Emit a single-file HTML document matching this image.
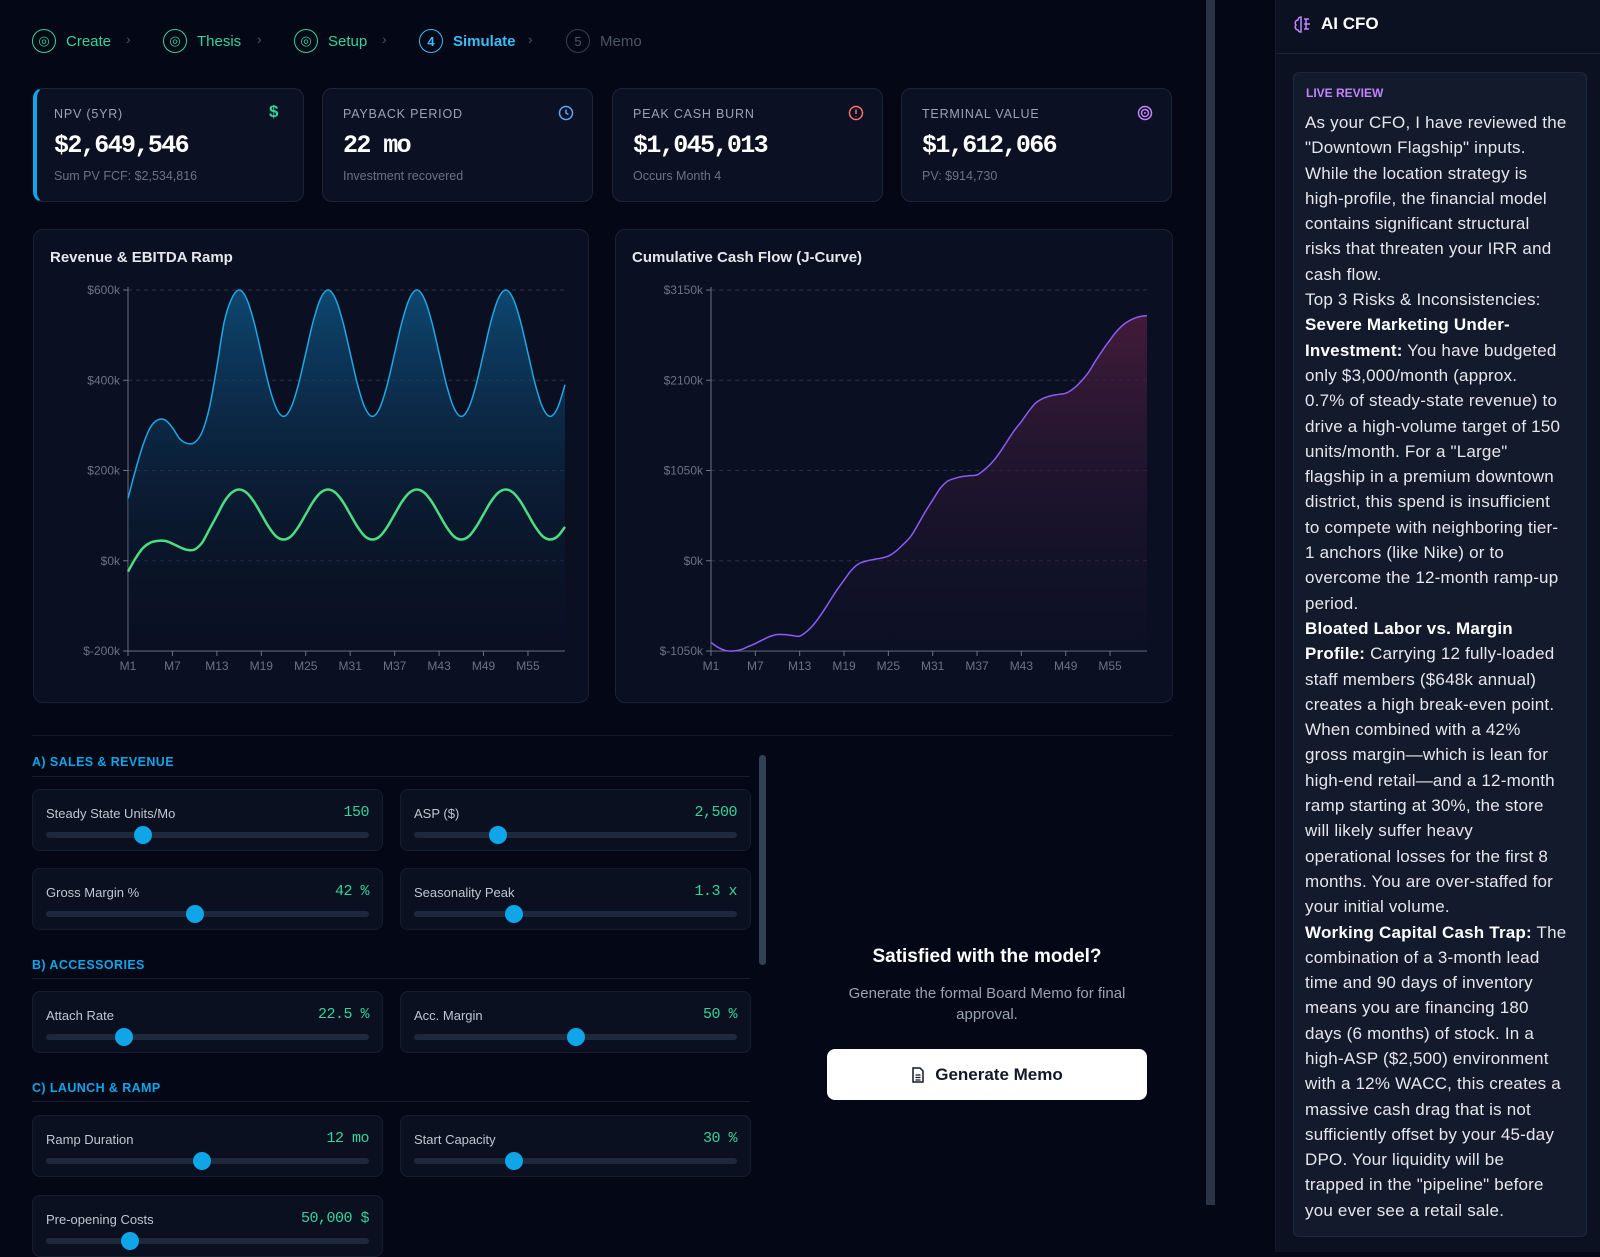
<!DOCTYPE html>
<html><head><meta charset="utf-8"><style>
*{box-sizing:border-box;margin:0;padding:0}
body{width:1600px;height:1252px;overflow:hidden;background:#040816;font-family:"Liberation Sans",sans-serif;color:#e5e7eb;position:relative}
.abs{position:absolute}
.step{position:absolute;top:29px;height:24px;display:flex;align-items:center;font-size:15px}
.circ{width:24px;height:24px;border-radius:50%;border:1.5px solid;display:flex;align-items:center;justify-content:center;font-size:13px;margin-right:10px}
.chev{position:absolute;top:31px;color:#4b5563;font-size:14px}
.kpi{position:absolute;top:88px;height:114px;width:271px;background:#0b1122;border:1px solid #1c2436;border-radius:10px}
.kpi .lb{position:absolute;left:20px;top:18px;font-size:12.5px;letter-spacing:.8px;color:#9aa3b2}
.kpi .v{position:absolute;left:20px;top:42px;font-family:"Liberation Mono",monospace;font-weight:bold;font-size:25px;color:#fff;letter-spacing:-1.6px}
.kpi .s{position:absolute;left:20px;top:80px;font-size:12.5px;color:#6b7280}
.kpi .ic{position:absolute;right:18px;top:16px;width:16px;height:16px}
.card{position:absolute;top:229px;height:474px;background:#0a1022;border:1px solid #1a2234;border-radius:10px}
.card .t{position:absolute;left:16px;top:19px;font-size:15px;font-weight:bold;color:#e5e7eb}
.sec{position:absolute;left:32px;font-size:12.5px;font-weight:bold;color:#0ea5e9;letter-spacing:.4px}
.hr{position:absolute;left:32px;width:718px;height:1px;background:#161e2e}
.sl{position:absolute;height:62px;width:351px;background:#0a1020;border:1px solid #161e2e;border-radius:8px}
.sl .n{position:absolute;left:13px;top:16px;font-size:13px;color:#c0c6d0}
.sl .val{position:absolute;right:13px;top:14px;font-family:"Liberation Mono",monospace;font-size:15px;color:#34d399;letter-spacing:-.5px}
.sl .tr{position:absolute;left:13px;right:13px;top:42px;height:6px;border-radius:3px;background:#1e293b}
.sl .th{position:absolute;top:36px;width:18px;height:18px;border-radius:50%;background:#0ea5e9;margin-left:-9px}
.cfo{position:absolute;left:1305px;top:110px;font-size:17px;line-height:25.3px;color:#e5e7eb;white-space:nowrap;letter-spacing:.2px}
.cfo b{color:#fff}
</style></head><body>
<div class="abs" style="left:0;top:0;width:1200px;height:80px">
<div class="step" style="left:32px;color:#34d399"><div class="circ" style="border-color:#34d399">◎</div>Create</div>
<div class="chev" style="left:126px">›</div>
<div class="step" style="left:163px;color:#34d399"><div class="circ" style="border-color:#34d399">◎</div>Thesis</div>
<div class="chev" style="left:257px">›</div>
<div class="step" style="left:294px;color:#34d399"><div class="circ" style="border-color:#34d399">◎</div>Setup</div>
<div class="chev" style="left:382px">›</div>
<div class="step" style="left:419px;color:#38bdf8;font-weight:bold"><div class="circ" style="border-color:#38bdf8">4</div>Simulate</div>
<div class="chev" style="left:528px">›</div>
<div class="step" style="left:566px;color:#4b5563"><div class="circ" style="border-color:#374151">5</div>Memo</div>
</div>

<div class="kpi" style="left:33px;border-left:4px solid #0ea5e9"><div class="lb" style="left:17px">NPV (5YR)</div><div class="v" style="left:17px">$2,649,546</div><div class="s" style="left:17px">Sum PV FCF: $2,534,816</div><div class="ic" style="color:#34d399;font-size:17px;font-weight:bold;top:13px">$</div></div>
<div class="kpi" style="left:322px"><div class="lb">PAYBACK PERIOD</div><div class="v">22 mo</div><div class="s">Investment recovered</div><svg class="ic" viewBox="0 0 16 16"><circle cx="8" cy="8" r="6.5" fill="none" stroke="#60a5fa" stroke-width="1.5"/><path d="M8 4.5V8l2.5 1.5" fill="none" stroke="#60a5fa" stroke-width="1.5"/></svg></div>
<div class="kpi" style="left:612px"><div class="lb">PEAK CASH BURN</div><div class="v">$1,045,013</div><div class="s">Occurs Month 4</div><svg class="ic" viewBox="0 0 16 16"><circle cx="8" cy="8" r="6.5" fill="none" stroke="#f87171" stroke-width="1.5"/><path d="M8 4.5V9M8 11v.5" stroke="#f87171" stroke-width="1.5"/></svg></div>
<div class="kpi" style="left:901px"><div class="lb">TERMINAL VALUE</div><div class="v">$1,612,066</div><div class="s">PV: $914,730</div><svg class="ic" viewBox="0 0 16 16"><circle cx="8" cy="8" r="6.5" fill="none" stroke="#c084fc" stroke-width="1.5"/><circle cx="8" cy="8" r="3.5" fill="none" stroke="#c084fc" stroke-width="1.5"/><circle cx="8" cy="8" r="1" fill="#c084fc"/></svg></div>

<div class="card" style="left:33px;width:556px"><div class="t">Revenue &amp; EBITDA Ramp</div></div>
<div class="card" style="left:615px;width:558px"><div class="t">Cumulative Cash Flow (J-Curve)</div></div>
<svg id="ch" class="abs" style="left:0;top:0" width="1200" height="720"></svg>

<div class="abs" style="left:32px;top:735px;width:1141px;height:1px;background:#111827"></div>
<div class="sec" style="top:755px">A) SALES &amp; REVENUE</div><div class="hr" style="top:776px"></div>
<div class="sec" style="top:958px">B) ACCESSORIES</div><div class="hr" style="top:978px"></div>
<div class="sec" style="top:1081px">C) LAUNCH &amp; RAMP</div><div class="hr" style="top:1101px"></div>
<div id="sliders"></div>
<div class="abs" style="left:759px;top:755px;width:7px;height:210px;background:#334155;border-radius:4px"></div>

<div class="abs" style="left:800px;width:374px;top:946px;text-align:center;font-size:19px;font-weight:bold;color:#fff">Satisfied with the model?</div>
<div class="abs" style="left:830px;width:314px;top:983px;text-align:center;font-size:15px;line-height:21px;color:#9aa3b2">Generate the formal Board Memo for final approval.</div>
<div class="abs" style="left:827px;top:1049px;width:320px;height:51px;background:#fff;border-radius:8px;display:flex;align-items:center;justify-content:center;font-size:17px;font-weight:bold;color:#111827"><svg width="14" height="16" viewBox="0 0 14 16" style="margin-right:10px"><path d="M2 1h7l3 3v11H2z" fill="none" stroke="#111827" stroke-width="1.5"/><path d="M4.5 8h5M4.5 10.5h5M4.5 13h5" stroke="#111827" stroke-width="1.2"/></svg>Generate Memo</div>

<div class="abs" style="left:1206px;top:0;width:9px;height:1205px;background:#2a3444"></div>
<div class="abs" style="left:1275px;top:0;width:325px;height:1252px;background:#0b1120;border-left:1px solid #141b2b">
<div class="abs" style="left:0;top:53px;width:325px;height:1px;background:#1a2233"></div>
<svg class="abs" style="left:17px;top:14px" width="20" height="20" viewBox="0 0 20 20"><path d="M8 3a3 3 0 0 0-3 3 3 3 0 0 0-2 5 3 3 0 0 0 2 5 3 3 0 0 0 3 2V3zM11 5h5M11 10h6M11 15h5M13 5v10" fill="none" stroke="#c084fc" stroke-width="1.5"/></svg>
<div class="abs" style="left:45px;top:14px;font-size:17px;font-weight:bold;color:#fff">AI CFO</div>
<div class="abs" style="left:17px;top:72px;width:294px;height:1165px;background:#121a2c;border:1px solid #1e2738;border-radius:6px"></div>
<div class="abs" style="left:30px;top:86px;font-size:12px;font-weight:bold;color:#c084fc">LIVE REVIEW</div>
</div>
<div class="cfo">As your CFO, I have reviewed the<br>"Downtown Flagship" inputs.<br>While the location strategy is<br>high-profile, the financial model<br>contains significant structural<br>risks that threaten your IRR and<br>cash flow.<br>Top 3 Risks &amp; Inconsistencies:<br><b>Severe Marketing Under-</b><br><b>Investment:</b> You have budgeted<br>only $3,000/month (approx.<br>0.7% of steady-state revenue) to<br>drive a high-volume target of 150<br>units/month. For a "Large"<br>flagship in a premium downtown<br>district, this spend is insufficient<br>to compete with neighboring tier-<br>1 anchors (like Nike) or to<br>overcome the 12-month ramp-up<br>period.<br><b>Bloated Labor vs. Margin</b><br><b>Profile:</b> Carrying 12 fully-loaded<br>staff members ($648k annual)<br>creates a high break-even point.<br>When combined with a 42%<br>gross margin—which is lean for<br>high-end retail—and a 12-month<br>ramp starting at 30%, the store<br>will likely suffer heavy<br>operational losses for the first 8<br>months. You are over-staffed for<br>your initial volume.<br><b>Working Capital Cash Trap:</b> The<br>combination of a 3-month lead<br>time and 90 days of inventory<br>means you are financing 180<br>days (6 months) of stock. In a<br>high-ASP ($2,500) environment<br>with a 12% WACC, this creates a<br>massive cash drag that is not<br>sufficiently offset by your 45-day<br>DPO. Your liquidity will be<br>trapped in the "pipeline" before<br>you ever see a retail sale.</div>

<script>
const revenue=[138,200,255,295,312,312,295,270,260,262,285,340,430,530,581,600,581,530,460,390,339,320,339,390,460,530,581,600,581,530,460,390,339,320,339,390,460,530,581,600,581,530,460,390,339,320,339,390,460,530,581,600,581,530,460,390,339,320,339,390];
const ebitda=[-24,5,28,40,44,44,38,30,24,25,40,70,100,131,151,158,151,131,103,75,54,47,54,75,103,131,151,158,151,131,103,75,54,47,54,75,103,131,151,158,151,131,103,75,54,47,54,75,103,131,151,158,151,131,103,75,54,47,54,75];
const cumulative=[-951,-1010,-1045,-1050,-1035,-1000,-963,-920,-880,-858,-860,-870,-877,-820,-730,-613,-480,-345,-225,-110,-35,-4,15,30,54,110,190,280,420,570,706,840,925,959,980,990,998,1060,1140,1250,1380,1510,1619,1740,1840,1891,1920,1935,1949,2000,2080,2182,2320,2450,2570,2680,2760,2811,2840,2853];
const revTicks=[600,400,200,0,-200];
const cumTicks=[3150,2100,1050,0,-1050];
const xTickMonths=[1,7,13,19,25,31,37,43,49,55];
const sliderNames=["Steady State Units/Mo","ASP ($)","Gross Margin %","Seasonality Peak","Attach Rate","Acc. Margin","Ramp Duration","Start Capacity","Pre-opening Costs"];
const sliderVals=["150","2,500","42 %","1.3 x","22.5 %","50 %","12 mo","30 %","50,000 $"];
const sliderPct=[0.30,0.26,0.46,0.31,0.24,0.50,0.48,0.31,0.26];

const NS="http://www.w3.org/2000/svg";
const svg=document.getElementById('ch');
function el(t,a,p){const e=document.createElementNS(NS,t);for(const k in a)e.setAttribute(k,a[k]);(p||svg).appendChild(e);return e;}
const defs=el('defs',{});
defs.innerHTML='<linearGradient id="gb" x1="0" y1="0" x2="0" y2="1"><stop offset="0" stop-color="#0e4d7a" stop-opacity=".9"/><stop offset="1" stop-color="#0a1022" stop-opacity="0.1"/></linearGradient><linearGradient id="gp" x1="0" y1="0" x2="0" y2="1"><stop offset="0" stop-color="#4c1d3d" stop-opacity=".85"/><stop offset="1" stop-color="#14122e" stop-opacity="0.2"/></linearGradient>';
function smooth(pts){let d='M'+pts[0][0]+','+pts[0][1];for(let i=0;i<pts.length-1;i++){const p0=pts[i-1]||pts[i],p1=pts[i],p2=pts[i+1],p3=pts[i+2]||p2;d+=' C'+(p1[0]+(p2[0]-p0[0])/6)+','+(p1[1]+(p2[1]-p0[1])/6)+' '+(p2[0]-(p3[0]-p1[0])/6)+','+(p2[1]-(p3[1]-p1[1])/6)+' '+p2[0]+','+p2[1];}return d;}
function chart(x0,x1,ticks,series,name){
  const y0=290,y1=651,max=ticks[0],min=ticks[ticks.length-1];
  const X=m=>x0+(m-1)*(x1-x0)/59, Y=v=>y0+(max-v)*(y1-y0)/(max-min);
  ticks.forEach(t=>{
    const g=el('line',{x1:x0,x2:x1,y1:Y(t),y2:Y(t),stroke:'#2a3344','stroke-dasharray':'4 4'});
    
    
    el('line',{x1:x0-5,x2:x0,y1:Y(t),y2:Y(t),stroke:'#6b7280'});
    const tx=el('text',{x:x0-8,y:Y(t)+4,'text-anchor':'end','font-size':12,fill:'#6b7280','font-family':'Liberation Sans'});
    tx.textContent='$'+t+'k';
    
    
  });
  el('line',{x1:x0,x2:x0,y1:y0-3,y2:y1,stroke:'#6b7280'});
  el('line',{x1:x0,x2:x1,y1:y1,y2:y1,stroke:'#6b7280'});
  xTickMonths.forEach(m=>{
    el('line',{x1:X(m),x2:X(m),y1:y1,y2:y1+5,stroke:'#6b7280'});
    const tx=el('text',{x:X(m),y:y1+19,'text-anchor':'middle','font-size':12,fill:'#6b7280','font-family':'Liberation Sans'});
    tx.textContent='M'+m;
    
    
  });
  series.forEach(s=>{
    const pts=s.data.map((v,i)=>[X(i+1),Y(v)]);
    const d=smooth(pts);
    if(s.fill){const a=el('path',{d:d+' L'+x1+','+y1+' L'+x0+','+y1+' Z',fill:s.fill});
      
      }
    const l=el('path',{d:d,fill:'none',stroke:s.color,'stroke-width':s.w});
    
    
  });
}
chart(128,565,revTicks,[{data:revenue,color:'#1ea7e4',w:1.5,fill:'url(#gb)',name:'revenue'},{data:ebitda,color:'#4ade80',w:2.5,name:'ebitda'}],'revenue-chart');
chart(711,1147,cumTicks,[{data:cumulative,color:'#8b5cf6',w:1.5,fill:'url(#gp)',name:'cumulative-cash'}],'cashflow-chart');

const pos=[[32,789],[400,789],[32,868],[400,868],[32,991],[400,991],[32,1115],[400,1115],[32,1195]];
const host=document.getElementById('sliders');
sliderNames.forEach((n,i)=>{
  const d=document.createElement('div');d.className='sl';
  
  
  d.style.left=pos[i][0]+'px';d.style.top=pos[i][1]+'px';
  d.innerHTML='<div class="n">'+n+'</div><div class="val">'+sliderVals[i]+'</div><div class="tr"></div><div class="th" style="left:'+(13+sliderPct[i]*324)+'px"></div>';
  host.appendChild(d);
});
</script>
</body></html>
